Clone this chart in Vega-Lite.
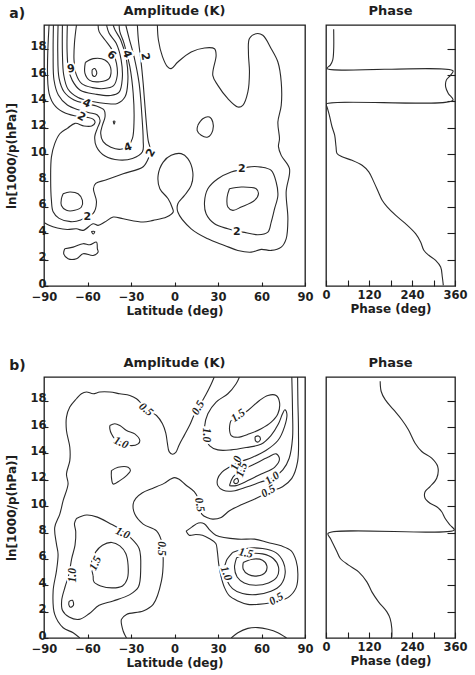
{
"$schema":"https://vega.github.io/schema/vega-lite/v6.json",
"padding":{"left":5,"right":5,"top":4,"bottom":5},
"config":{
"background":"white",
"font":"DejaVu Sans",
"view":{"stroke":"#1e1e1e","strokeWidth":1.3},
"axis":{"grid":false,"domain":false,"labelFont":"DejaVu Sans","labelFontWeight":"bold","labelFontSize":11.5,"labelColor":"#1e1e1e","titleFont":"DejaVu Sans","titleFontWeight":"bold","titleFontSize":12,"titleColor":"#1e1e1e","tickColor":"#1e1e1e","tickWidth":1.1,"labelOverlap":false,"labelFlush":false,"labelSeparation":0},
"axisY":{"labelOverlap":false},
"axisLeft":{"labelOverlap":false},
"axisQuantitative":{"labelOverlap":false},
"title":{"font":"DejaVu Sans","fontWeight":"bold","fontSize":13,"color":"#1e1e1e","offset":7}
},
"datasets":{
"ca":[
{"line":"o","lat":-89.7,"lev":4.8},{"line":"o","lat":-86.5,"lev":4.6},{"line":"o","lat":-80.8,"lev":4.4},{"line":"o","lat":-73.9,"lev":4.29},{"line":"o","lat":-67.6,"lev":4.34},{"line":"o","lat":-63,"lev":4.22},{"line":"o","lat":-56.1,"lev":4.72},{"line":"o","lat":-52.7,"lev":4.6},{"line":"o","lat":-48.1,"lev":4.85},{"line":"o","lat":-42.3,"lev":5.23},{"line":"o","lat":-35.4,"lev":5.1},{"line":"o","lat":-21.6,"lev":4.85},{"line":"o","lat":-14.7,"lev":4.98},{"line":"o","lat":-5.5,"lev":5.23},{"line":"o","lat":-0.9,"lev":5.61},{"line":"o","lat":-1.4,"lev":5.9},{"line":"o","lat":-4.4,"lev":6.62},{"line":"o","lat":-10.1,"lev":7.38},{"line":"o","lat":-11.3,"lev":8.39},{"line":"o","lat":-7.8,"lev":9.4},{"line":"o","lat":-2.3,"lev":9.91},{"line":"o","lat":4.6,"lev":10.04},{"line":"o","lat":9.2,"lev":9.66},{"line":"o","lat":12.6,"lev":8.65},{"line":"o","lat":11.5,"lev":7.63},{"line":"o","lat":6.9,"lev":6.87},{"line":"o","lat":2.3,"lev":6.24},{"line":"o","lat":2.3,"lev":5.61},{"line":"o","lat":11.5,"lev":4.34},{"line":"o","lat":23,"lev":3.58},{"line":"o","lat":34.5,"lev":3.08},{"line":"o","lat":43.7,"lev":2.7},{"line":"o","lat":52.9,"lev":2.57},{"line":"o","lat":59.8,"lev":2.78},{"line":"o","lat":66.7,"lev":2.7},{"line":"o","lat":73.6,"lev":2.95},{"line":"o","lat":77,"lev":3.58},{"line":"o","lat":78.2,"lev":5.1},{"line":"o","lat":77,"lev":7.13},{"line":"o","lat":79.3,"lev":8.9},{"line":"o","lat":73.6,"lev":9.91},{"line":"o","lat":71.7,"lev":10.57},{"line":"o","lat":72.4,"lev":11.17},{"line":"o","lat":71.3,"lev":12.44},{"line":"o","lat":73.6,"lev":13.7},{"line":"o","lat":73.6,"lev":15.48},{"line":"o","lat":71.3,"lev":16.99},{"line":"o","lat":66.7,"lev":18.0},{"line":"o","lat":60.9,"lev":19.02},{"line":"o","lat":56.3,"lev":19.14},{"line":"o","lat":51.7,"lev":18.77},{"line":"o","lat":51,"lev":17.65},{"line":"o","lat":51.7,"lev":16.24},{"line":"o","lat":50.6,"lev":14.72},{"line":"o","lat":47.1,"lev":13.7},{"line":"o","lat":43.7,"lev":13.58},{"line":"o","lat":36.8,"lev":14.21},{"line":"o","lat":29.9,"lev":15.22},{"line":"o","lat":26.4,"lev":15.98},{"line":"o","lat":28.7,"lev":17.5},{"line":"o","lat":27.6,"lev":18.0},{"line":"o","lat":20.7,"lev":18.06},{"line":"o","lat":11.5,"lev":17.75},{"line":"o","lat":2.3,"lev":16.99},{"line":"o","lat":-2.3,"lev":16.49},{"line":"o","lat":-4.9,"lev":16.64},{"line":"o","lat":-8.3,"lev":17.4},{"line":"o","lat":-11.1,"lev":18.66},{"line":"o","lat":-11.8,"lev":19.8},
{"line":"r2","lat":43.7,"lev":8.77},{"line":"r2","lat":50.6,"lev":9.02},{"line":"r2","lat":59.8,"lev":9.02},{"line":"r2","lat":66.7,"lev":8.77},{"line":"r2","lat":70.1,"lev":7.89},{"line":"r2","lat":71.3,"lev":6.87},{"line":"r2","lat":69,"lev":5.86},{"line":"r2","lat":66.7,"lev":4.85},{"line":"r2","lat":64.4,"lev":4.09},{"line":"r2","lat":57.5,"lev":3.89},{"line":"r2","lat":47.1,"lev":4.09},{"line":"r2","lat":43.7,"lev":4.14},{"line":"r2","lat":36.8,"lev":4.34},{"line":"r2","lat":27.6,"lev":4.72},{"line":"r2","lat":21.8,"lev":5.48},{"line":"r2","lat":20.7,"lev":6.37},{"line":"r2","lat":23,"lev":7.38},{"line":"r2","lat":29.9,"lev":8.14},{"line":"r2","lat":39.1,"lev":8.65},{"line":"r2","lat":43.7,"lev":8.77},
{"line":"r3","lat":37.9,"lev":7.38},{"line":"r3","lat":46,"lev":7.51},{"line":"r3","lat":56.3,"lev":7.38},{"line":"r3","lat":57.9,"lev":7.0},{"line":"r3","lat":55.2,"lev":6.49},{"line":"r3","lat":46,"lev":5.99},{"line":"r3","lat":40.2,"lev":5.74},{"line":"r3","lat":36.8,"lev":5.99},{"line":"r3","lat":36.3,"lev":6.75},{"line":"r3","lat":37.9,"lev":7.38},
{"line":"s1","lat":16.1,"lev":12.19},{"line":"s1","lat":19.5,"lev":12.69},{"line":"s1","lat":24.1,"lev":12.82},{"line":"s1","lat":26.4,"lev":12.44},{"line":"s1","lat":26.4,"lev":11.81},{"line":"s1","lat":23,"lev":11.3},{"line":"s1","lat":18.4,"lev":11.43},{"line":"s1","lat":15.6,"lev":11.81},{"line":"s1","lat":16.1,"lev":12.19},
{"line":"c2","lat":-86.5,"lev":19.8},{"line":"c2","lat":-86.5,"lev":14.62},{"line":"c2","lat":-81.9,"lev":13.6},{"line":"c2","lat":-75,"lev":13.1},{"line":"c2","lat":-65.8,"lev":12.85},{"line":"c2","lat":-60.1,"lev":12.79},{"line":"c2","lat":-55.9,"lev":12.64},{"line":"c2","lat":-54.8,"lev":12.39},{"line":"c2","lat":-57.1,"lev":12.14},{"line":"c2","lat":-62.4,"lev":12.14},{"line":"c2","lat":-68.6,"lev":12.34},{"line":"c2","lat":-73.9,"lev":11.96},{"line":"c2","lat":-79.1,"lev":11.55},{"line":"c2","lat":-82.6,"lev":10.8},{"line":"c2","lat":-84.9,"lev":9.78},{"line":"c2","lat":-85.4,"lev":8.04},{"line":"c2","lat":-84.9,"lev":6.52},{"line":"c2","lat":-83.7,"lev":5.63},{"line":"c2","lat":-79.6,"lev":5.13},{"line":"c2","lat":-71.6,"lev":4.88},{"line":"c2","lat":-64.7,"lev":5.0},{"line":"c2","lat":-60.7,"lev":5.28},{"line":"c2","lat":-56.1,"lev":5.51},{"line":"c2","lat":-53.8,"lev":6.37},{"line":"c2","lat":-55.9,"lev":7.38},{"line":"c2","lat":-54.3,"lev":7.78},{"line":"c2","lat":-47.4,"lev":8.04},{"line":"c2","lat":-35.4,"lev":8.52},{"line":"c2","lat":-21.6,"lev":9.05},{"line":"c2","lat":-17.5,"lev":9.81},{"line":"c2","lat":-16.4,"lev":10.19},{"line":"c2","lat":-18.2,"lev":11.07},{"line":"c2","lat":-19.8,"lev":12.85},{"line":"c2","lat":-21.6,"lev":15.37},{"line":"c2","lat":-23.2,"lev":17.15},{"line":"c2","lat":-24.9,"lev":18.66},{"line":"c2","lat":-25.6,"lev":19.8},
{"line":"c3","lat":-83.5,"lev":19.8},{"line":"c3","lat":-83.7,"lev":17.65},{"line":"c3","lat":-83.1,"lev":15.63},{"line":"c3","lat":-80.1,"lev":14.49},{"line":"c3","lat":-73.9,"lev":13.73},{"line":"c3","lat":-65.8,"lev":13.35},{"line":"c3","lat":-58.9,"lev":13.15},{"line":"c3","lat":-53.2,"lev":12.97},{"line":"c3","lat":-51.3,"lev":12.54},{"line":"c3","lat":-53.2,"lev":11.96},{"line":"c3","lat":-55,"lev":11.33},{"line":"c3","lat":-53.8,"lev":10.57},{"line":"c3","lat":-47.9,"lev":9.86},{"line":"c3","lat":-38.2,"lev":9.56},{"line":"c3","lat":-29,"lev":9.68},{"line":"c3","lat":-22.1,"lev":10.19},{"line":"c3","lat":-21.6,"lev":11.07},{"line":"c3","lat":-22.6,"lev":13.1},{"line":"c3","lat":-24.4,"lev":15.37},{"line":"c3","lat":-27.9,"lev":17.4},{"line":"c3","lat":-31.3,"lev":18.79},{"line":"c3","lat":-33.6,"lev":19.8},
{"line":"c4","lat":-80.3,"lev":19.8},{"line":"c4","lat":-80.5,"lev":17.65},{"line":"c4","lat":-79.6,"lev":15.75},{"line":"c4","lat":-76.2,"lev":14.74},{"line":"c4","lat":-69.3,"lev":14.11},{"line":"c4","lat":-60.7,"lev":13.83},{"line":"c4","lat":-53.8,"lev":13.65},{"line":"c4","lat":-48.6,"lev":13.35},{"line":"c4","lat":-47.9,"lev":12.84},{"line":"c4","lat":-49.7,"lev":12.21},{"line":"c4","lat":-50.9,"lev":11.58},{"line":"c4","lat":-49.2,"lev":10.95},{"line":"c4","lat":-43.9,"lev":10.52},{"line":"c4","lat":-37.1,"lev":10.37},{"line":"c4","lat":-32,"lev":10.62},{"line":"c4","lat":-29,"lev":11.2},{"line":"c4","lat":-27.9,"lev":12.59},{"line":"c4","lat":-28.5,"lev":14.62},{"line":"c4","lat":-30.8,"lev":16.64},{"line":"c4","lat":-34.8,"lev":18.41},{"line":"c4","lat":-37.7,"lev":19.3},{"line":"c4","lat":-38.2,"lev":19.8},
{"line":"c5","lat":-77.3,"lev":19.8},{"line":"c5","lat":-77.3,"lev":17.65},{"line":"c5","lat":-76.4,"lev":16.01},{"line":"c5","lat":-73.5,"lev":14.95},{"line":"c5","lat":-66.5,"lev":14.3},{"line":"c5","lat":-56.6,"lev":14.0},{"line":"c5","lat":-47.4,"lev":13.85},{"line":"c5","lat":-39.4,"lev":13.85},{"line":"c5","lat":-34.1,"lev":14.35},{"line":"c5","lat":-32.2,"lev":15.5},{"line":"c5","lat":-33.1,"lev":17.15},{"line":"c5","lat":-37.1,"lev":18.66},{"line":"c5","lat":-41,"lev":19.42},{"line":"c5","lat":-42.3,"lev":19.8},
{"line":"c6","lat":-73.9,"lev":19.8},{"line":"c6","lat":-74.1,"lev":17.9},{"line":"c6","lat":-73.2,"lev":16.51},{"line":"c6","lat":-70.5,"lev":15.6},{"line":"c6","lat":-65,"lev":14.85},{"line":"c6","lat":-54.3,"lev":14.55},{"line":"c6","lat":-44,"lev":14.45},{"line":"c6","lat":-38.2,"lev":14.7},{"line":"c6","lat":-36,"lev":15.75},{"line":"c6","lat":-36.8,"lev":17.15},{"line":"c6","lat":-40.2,"lev":18.41},{"line":"c6","lat":-45.1,"lev":19.17},{"line":"c6","lat":-46.9,"lev":19.8},
{"line":"c7","lat":-67.6,"lev":19.8},{"line":"c7","lat":-69,"lev":18.41},{"line":"c7","lat":-69.3,"lev":17.15},{"line":"c7","lat":-67.8,"lev":16.05},{"line":"c7","lat":-64,"lev":15.35},{"line":"c7","lat":-56.6,"lev":15.05},{"line":"c7","lat":-48.6,"lev":14.98},{"line":"c7","lat":-42,"lev":15.2},{"line":"c7","lat":-39.5,"lev":15.95},{"line":"c7","lat":-40,"lev":16.89},{"line":"c7","lat":-43,"lev":17.9},{"line":"c7","lat":-47.9,"lev":18.66},{"line":"c7","lat":-52,"lev":19.3},{"line":"c7","lat":-52.7,"lev":19.8},
{"line":"ov","lat":-61.5,"lev":16.95},{"line":"ov","lat":-56.1,"lev":17.25},{"line":"ov","lat":-48,"lev":17.15},{"line":"ov","lat":-44,"lev":16.55},{"line":"ov","lat":-45,"lev":15.75},{"line":"ov","lat":-51.5,"lev":15.5},{"line":"ov","lat":-58.5,"lev":15.6},{"line":"ov","lat":-61.8,"lev":16.15},{"line":"ov","lat":-61.5,"lev":16.95},
{"line":"oi","lat":-56.8,"lev":16.4},{"line":"oi","lat":-55,"lev":16.5},{"line":"oi","lat":-53.6,"lev":16.15},{"line":"oi","lat":-55,"lev":15.9},{"line":"oi","lat":-56.6,"lev":16.0},{"line":"oi","lat":-56.8,"lev":16.4},
{"line":"d2","lat":-42.3,"lev":12.5},{"line":"d2","lat":-41.1,"lev":12.5},{"line":"d2","lat":-41.7,"lev":12.28},{"line":"d2","lat":-42.3,"lev":12.5},
{"line":"e3","lat":-76.8,"lev":7.0},{"line":"e3","lat":-72.2,"lev":7.13},{"line":"e3","lat":-66.5,"lev":7.0},{"line":"e3","lat":-63.5,"lev":6.49},{"line":"e3","lat":-64.2,"lev":5.99},{"line":"e3","lat":-68.8,"lev":5.74},{"line":"e3","lat":-74.5,"lev":5.74},{"line":"e3","lat":-78,"lev":6.11},{"line":"e3","lat":-78,"lev":6.62},{"line":"e3","lat":-76.8,"lev":7.0},
{"line":"d1","lat":-57.3,"lev":4.14},{"line":"d1","lat":-55,"lev":4.14},{"line":"d1","lat":-56.1,"lev":3.94},{"line":"d1","lat":-57.3,"lev":4.14},
{"line":"bt","lat":-75.7,"lev":2.83},{"line":"bt","lat":-69.9,"lev":2.95},{"line":"bt","lat":-63,"lev":3.21},{"line":"bt","lat":-58.4,"lev":3.13},{"line":"bt","lat":-53.8,"lev":3.33},{"line":"bt","lat":-53.2,"lev":2.83},{"line":"bt","lat":-52.7,"lev":2.57},{"line":"bt","lat":-56.1,"lev":2.32},{"line":"bt","lat":-63,"lev":2.45},{"line":"bt","lat":-67.6,"lev":2.07},{"line":"bt","lat":-73.4,"lev":2.07},{"line":"bt","lat":-76.4,"lev":2.45},{"line":"bt","lat":-75.7,"lev":2.83}
],
"la":[
{"lat":-71.5,"lev":16.6,"text":"6","rot":170},{"lat":-43.5,"lev":17.5,"text":"6","rot":40},{"lat":-33.1,"lev":17.6,"text":"4","rot":70},{"lat":-20.5,"lev":17.4,"text":"2","rot":80},{"lat":-60.7,"lev":13.83,"text":"4","rot":25},{"lat":-64.2,"lev":12.82,"text":"2","rot":30},{"lat":-32,"lev":10.5,"text":"4","rot":-20},{"lat":-16.2,"lev":10.1,"text":"2","rot":-60},{"lat":-60.1,"lev":5.24,"text":"2","rot":0},{"lat":46.4,"lev":8.85,"text":"2","rot":0},{"lat":43,"lev":4.12,"text":"2","rot":0}
],
"cb":[
{"line":"b1","lat":27.4,"lev":19.8},{"line":"b1","lat":25.1,"lev":19.21},{"line":"b1","lat":21.6,"lev":18.45},{"line":"b1","lat":17,"lev":17.57},{"line":"b1","lat":13.6,"lev":16.93},{"line":"b1","lat":10.6,"lev":16.17},{"line":"b1","lat":6.9,"lev":15.41},{"line":"b1","lat":3.2,"lev":14.65},{"line":"b1","lat":0.9,"lev":14.09},{"line":"b1","lat":-1.4,"lev":13.94},{"line":"b1","lat":-3.7,"lev":14.14},{"line":"b1","lat":-4.9,"lev":14.78},{"line":"b1","lat":-6,"lev":15.54},{"line":"b1","lat":-8.3,"lev":16.25},{"line":"b1","lat":-12.4,"lev":16.88},{"line":"b1","lat":-17,"lev":17.19},{"line":"b1","lat":-21.6,"lev":17.64},{"line":"b1","lat":-26.2,"lev":18.15},{"line":"b1","lat":-30.8,"lev":18.4},{"line":"b1","lat":-37.7,"lev":18.53},{"line":"b1","lat":-44.6,"lev":18.66},{"line":"b1","lat":-51.5,"lev":18.66},{"line":"b1","lat":-56.1,"lev":18.53},{"line":"b1","lat":-60.7,"lev":18.66},{"line":"b1","lat":-64.2,"lev":18.53},{"line":"b1","lat":-67.6,"lev":18.15},{"line":"b1","lat":-72.2,"lev":17.52},{"line":"b1","lat":-74.5,"lev":16.76},{"line":"b1","lat":-74.5,"lev":15.74},{"line":"b1","lat":-72.2,"lev":14.47},{"line":"b1","lat":-72.2,"lev":13.46},{"line":"b1","lat":-74.5,"lev":12.44},{"line":"b1","lat":-73.4,"lev":11.68},{"line":"b1","lat":-76.8,"lev":10.42},{"line":"b1","lat":-79.1,"lev":9.4},{"line":"b1","lat":-82.6,"lev":8.39},{"line":"b1","lat":-81.4,"lev":7.12},{"line":"b1","lat":-80.3,"lev":6.36},{"line":"b1","lat":-81.4,"lev":5.09},{"line":"b1","lat":-83.7,"lev":3.57},{"line":"b1","lat":-82.6,"lev":1.79},{"line":"b1","lat":-76.8,"lev":0.78},{"line":"b1","lat":-69.9,"lev":0.4},{"line":"b1","lat":-65.3,"lev":0},
{"line":"b2","lat":-33.1,"lev":0},{"line":"b2","lat":-35.4,"lev":0.53},{"line":"b2","lat":-36.6,"lev":1.41},{"line":"b2","lat":-33.1,"lev":1.79},{"line":"b2","lat":-21.6,"lev":2.05},{"line":"b2","lat":-14.7,"lev":2.55},{"line":"b2","lat":-9,"lev":4.33},{"line":"b2","lat":-7.8,"lev":6.1},{"line":"b2","lat":-9,"lev":7.37},{"line":"b2","lat":-12.4,"lev":8.13},{"line":"b2","lat":-21.6,"lev":8.64},{"line":"b2","lat":-27.4,"lev":9.4},{"line":"b2","lat":-28.5,"lev":10.16},{"line":"b2","lat":-26.7,"lev":10.59},{"line":"b2","lat":-22.1,"lev":11.02},{"line":"b2","lat":-15.2,"lev":11.35},{"line":"b2","lat":-7.2,"lev":11.73},{"line":"b2","lat":-2.6,"lev":12.06},{"line":"b2","lat":0.2,"lev":12.17},{"line":"b2","lat":3.2,"lev":12.04},{"line":"b2","lat":7.8,"lev":11.61},{"line":"b2","lat":13.6,"lev":11.1},{"line":"b2","lat":16.3,"lev":10.59},{"line":"b2","lat":17.5,"lev":9.96},{"line":"b2","lat":18.8,"lev":9.4},{"line":"b2","lat":22.8,"lev":9.12},{"line":"b2","lat":26.4,"lev":9.02},{"line":"b2","lat":32.2,"lev":9.15},{"line":"b2","lat":37.9,"lev":9.65},{"line":"b2","lat":46.9,"lev":10.14},{"line":"b2","lat":56.1,"lev":10.59},{"line":"b2","lat":65.8,"lev":11.1},{"line":"b2","lat":74.5,"lev":11.48},{"line":"b2","lat":80.9,"lev":12.11},{"line":"b2","lat":84.9,"lev":13.38},{"line":"b2","lat":85.5,"lev":15.66},{"line":"b2","lat":85.1,"lev":17.95},{"line":"b2","lat":84.9,"lev":19.8},
{"line":"q","lat":8,"lev":8.11},{"line":"q","lat":11.9,"lev":8.41},{"line":"q","lat":16.5,"lev":8.72},{"line":"q","lat":20.5,"lev":8.67},{"line":"q","lat":24.4,"lev":8.18},{"line":"q","lat":28.5,"lev":7.8},{"line":"q","lat":43.7,"lev":7.5},{"line":"q","lat":55.2,"lev":7.5},{"line":"q","lat":64.4,"lev":7.25},{"line":"q","lat":73.6,"lev":6.99},{"line":"q","lat":80.5,"lev":6.61},{"line":"q","lat":83.9,"lev":5.85},{"line":"q","lat":85.1,"lev":4.84},{"line":"q","lat":83.9,"lev":3.82},{"line":"q","lat":78.2,"lev":3.06},{"line":"q","lat":71.3,"lev":2.81},{"line":"q","lat":66.7,"lev":2.68},{"line":"q","lat":57.5,"lev":2.55},{"line":"q","lat":50.6,"lev":2.55},{"line":"q","lat":43.7,"lev":2.81},{"line":"q","lat":37.9,"lev":3.19},{"line":"q","lat":34.5,"lev":3.82},{"line":"q","lat":32,"lev":4.71},{"line":"q","lat":30.5,"lev":5.6},{"line":"q","lat":29.5,"lev":6.61},{"line":"q","lat":28.5,"lev":7.17},{"line":"q","lat":23.9,"lev":7.55},{"line":"q","lat":19.3,"lev":7.8},{"line":"q","lat":14.7,"lev":7.85},{"line":"q","lat":10.1,"lev":7.8},{"line":"q","lat":8,"lev":8.11},
{"line":"r10","lat":40,"lev":6.48},{"line":"r10","lat":49.2,"lev":6.79},{"line":"r10","lat":60.7,"lev":6.79},{"line":"r10","lat":69.9,"lev":6.48},{"line":"r10","lat":75,"lev":5.77},{"line":"r10","lat":76.3,"lev":4.89},{"line":"r10","lat":73.4,"lev":4.05},{"line":"r10","lat":66.5,"lev":3.54},{"line":"r10","lat":56.1,"lev":3.29},{"line":"r10","lat":46.9,"lev":3.37},{"line":"r10","lat":40,"lev":3.75},{"line":"r10","lat":36.1,"lev":4.38},{"line":"r10","lat":34.5,"lev":5.14},{"line":"r10","lat":35.9,"lev":5.9},{"line":"r10","lat":40,"lev":6.48},
{"line":"r15","lat":42.8,"lev":6.08},{"line":"r15","lat":50.4,"lev":6.38},{"line":"r15","lat":60.7,"lev":6.38},{"line":"r15","lat":68.1,"lev":6.03},{"line":"r15","lat":71.7,"lev":5.39},{"line":"r15","lat":70.6,"lev":4.63},{"line":"r15","lat":64.8,"lev":4.18},{"line":"r15","lat":56.1,"lev":4.0},{"line":"r15","lat":48.1,"lev":4.18},{"line":"r15","lat":43.2,"lev":4.63},{"line":"r15","lat":41.4,"lev":5.34},{"line":"r15","lat":42.8,"lev":6.08},
{"line":"r20","lat":47.4,"lev":5.72},{"line":"r20","lat":53.8,"lev":5.98},{"line":"r20","lat":60.7,"lev":5.9},{"line":"r20","lat":63.7,"lev":5.47},{"line":"r20","lat":62.5,"lev":4.96},{"line":"r20","lat":57.3,"lev":4.71},{"line":"r20","lat":51,"lev":4.81},{"line":"r20","lat":47.4,"lev":5.22},{"line":"r20","lat":47.4,"lev":5.72},
{"line":"arc","lat":39.1,"lev":0},{"line":"arc","lat":43.7,"lev":0.4},{"line":"arc","lat":50.6,"lev":0.73},{"line":"arc","lat":57.5,"lev":0.79},{"line":"arc","lat":64.4,"lev":0.66},{"line":"arc","lat":71.3,"lev":0.4},{"line":"arc","lat":75.9,"lev":0.1},{"line":"arc","lat":77.3,"lev":0},
{"line":"u1","lat":-44.6,"lev":16.12},{"line":"u1","lat":-41.2,"lev":16.25},{"line":"u1","lat":-37.7,"lev":16.12},{"line":"u1","lat":-33.1,"lev":15.74},{"line":"u1","lat":-27.4,"lev":15.49},{"line":"u1","lat":-23.9,"lev":14.98},{"line":"u1","lat":-25.1,"lev":14.73},{"line":"u1","lat":-30.8,"lev":14.6},{"line":"u1","lat":-36.6,"lev":14.85},{"line":"u1","lat":-41.2,"lev":15.11},{"line":"u1","lat":-43.5,"lev":15.49},{"line":"u1","lat":-44.6,"lev":15.87},{"line":"u1","lat":-44.6,"lev":16.12},
{"line":"u2","lat":-43.5,"lev":12.7},{"line":"u2","lat":-38.9,"lev":12.95},{"line":"u2","lat":-32,"lev":12.95},{"line":"u2","lat":-30.4,"lev":12.7},{"line":"u2","lat":-33.1,"lev":12.32},{"line":"u2","lat":-37.7,"lev":11.94},{"line":"u2","lat":-42.3,"lev":11.68},{"line":"u2","lat":-43.5,"lev":12.19},{"line":"u2","lat":-43.5,"lev":12.7},
{"line":"l10","lat":-67.6,"lev":9.07},{"line":"l10","lat":-60.7,"lev":9.33},{"line":"l10","lat":-53.2,"lev":9.17},{"line":"l10","lat":-44.6,"lev":8.69},{"line":"l10","lat":-37.7,"lev":8.26},{"line":"l10","lat":-30.2,"lev":7.6},{"line":"l10","lat":-24.4,"lev":6.79},{"line":"l10","lat":-23.3,"lev":5.27},{"line":"l10","lat":-24.9,"lev":3.87},{"line":"l10","lat":-30.8,"lev":3.29},{"line":"l10","lat":-42.3,"lev":2.81},{"line":"l10","lat":-52,"lev":2.48},{"line":"l10","lat":-58.9,"lev":1.84},{"line":"l10","lat":-65.8,"lev":1.41},{"line":"l10","lat":-72.7,"lev":1.59},{"line":"l10","lat":-77.3,"lev":2.1},{"line":"l10","lat":-77.8,"lev":2.86},{"line":"l10","lat":-75.5,"lev":3.87},{"line":"l10","lat":-72.7,"lev":4.89},{"line":"l10","lat":-70.9,"lev":6.03},{"line":"l10","lat":-68.6,"lev":7.04},{"line":"l10","lat":-68.1,"lev":8.06},{"line":"l10","lat":-69,"lev":8.69},{"line":"l10","lat":-67.6,"lev":9.07},
{"line":"l15","lat":-56.1,"lev":4.71},{"line":"l15","lat":-57.3,"lev":5.72},{"line":"l15","lat":-54.3,"lev":6.53},{"line":"l15","lat":-49.7,"lev":7.04},{"line":"l15","lat":-43.3,"lev":7.25},{"line":"l15","lat":-37.7,"lev":6.99},{"line":"l15","lat":-33.6,"lev":6.41},{"line":"l15","lat":-32,"lev":5.52},{"line":"l15","lat":-32.5,"lev":4.51},{"line":"l15","lat":-35.9,"lev":3.95},{"line":"l15","lat":-42.8,"lev":3.8},{"line":"l15","lat":-50.9,"lev":3.95},{"line":"l15","lat":-55.5,"lev":4.25},{"line":"l15","lat":-56.1,"lev":4.71},
{"line":"l20","lat":-72.7,"lev":2.78},{"line":"l20","lat":-70.4,"lev":2.86},{"line":"l20","lat":-69.7,"lev":2.48},{"line":"l20","lat":-71.8,"lev":2.33},{"line":"l20","lat":-72.9,"lev":2.53},{"line":"l20","lat":-72.7,"lev":2.78},
{"line":"v10","lat":44.8,"lev":19.8},{"line":"v10","lat":42.5,"lev":19.29},{"line":"v10","lat":36.8,"lev":18.53},{"line":"v10","lat":28.7,"lev":17.9},{"line":"v10","lat":23,"lev":17.01},{"line":"v10","lat":20.7,"lev":16.0},{"line":"v10","lat":21.8,"lev":15.11},{"line":"v10","lat":24.1,"lev":14.6},{"line":"v10","lat":29.9,"lev":14.27},{"line":"v10","lat":39.1,"lev":14.27},{"line":"v10","lat":49.4,"lev":14.45},{"line":"v10","lat":59.6,"lev":14.7},{"line":"v10","lat":66.5,"lev":15.36},{"line":"v10","lat":71.7,"lev":16.25},{"line":"v10","lat":74.5,"lev":17.01},{"line":"v10","lat":76.1,"lev":17.31},{"line":"v10","lat":77.5,"lev":17.01},{"line":"v10","lat":75.9,"lev":16.04},{"line":"v10","lat":71.3,"lev":14.98},{"line":"v10","lat":63,"lev":14.22},{"line":"v10","lat":53.8,"lev":13.71},{"line":"v10","lat":44.6,"lev":13.33},{"line":"v10","lat":37.7,"lev":12.95},{"line":"v10","lat":32.6,"lev":12.57},{"line":"v10","lat":29.7,"lev":12.06},{"line":"v10","lat":29.9,"lev":11.56},{"line":"v10","lat":33.6,"lev":11.2},{"line":"v10","lat":40.5,"lev":11.15},{"line":"v10","lat":49.7,"lev":11.45},{"line":"v10","lat":58.9,"lev":11.81},{"line":"v10","lat":68.1,"lev":12.16},{"line":"v10","lat":74.7,"lev":12.75},{"line":"v10","lat":79.1,"lev":13.64},{"line":"v10","lat":81.4,"lev":15.16},{"line":"v10","lat":81.4,"lev":17.19},{"line":"v10","lat":80.9,"lev":19.8},
{"line":"v15","lat":37.9,"lev":15.87},{"line":"v15","lat":39.1,"lev":16.5},{"line":"v15","lat":43.7,"lev":16.75},{"line":"v15","lat":50.6,"lev":17.26},{"line":"v15","lat":58.6,"lev":18.02},{"line":"v15","lat":64.4,"lev":18.4},{"line":"v15","lat":70.1,"lev":18.4},{"line":"v15","lat":72.4,"lev":17.9},{"line":"v15","lat":71.3,"lev":17.01},{"line":"v15","lat":66.7,"lev":16.37},{"line":"v15","lat":59.8,"lev":15.87},{"line":"v15","lat":51.7,"lev":15.49},{"line":"v15","lat":43.7,"lev":15.23},{"line":"v15","lat":39.1,"lev":15.36},{"line":"v15","lat":37.9,"lev":15.87},
{"line":"v20","lat":55.6,"lev":15.26},{"line":"v20","lat":57.9,"lev":15.33},{"line":"v20","lat":59.3,"lev":15.1},{"line":"v20","lat":57.7,"lev":14.87},{"line":"v20","lat":55.9,"lev":14.95},{"line":"v20","lat":55.6,"lev":15.26},
{"line":"w15","lat":37.9,"lev":11.56},{"line":"w15","lat":40.2,"lev":12.19},{"line":"w15","lat":46,"lev":12.7},{"line":"w15","lat":55.2,"lev":13.2},{"line":"w15","lat":64.4,"lev":13.71},{"line":"w15","lat":70.1,"lev":13.97},{"line":"w15","lat":72.4,"lev":13.58},{"line":"w15","lat":69,"lev":12.95},{"line":"w15","lat":59.8,"lev":12.44},{"line":"w15","lat":50.6,"lev":11.94},{"line":"w15","lat":42.5,"lev":11.56},{"line":"w15","lat":37.9,"lev":11.56},
{"line":"w20","lat":41.2,"lev":11.99},{"line":"w20","lat":43.2,"lev":12.11},{"line":"w20","lat":44.1,"lev":11.86},{"line":"w20","lat":42.3,"lev":11.71},{"line":"w20","lat":40.9,"lev":11.81},{"line":"w20","lat":41.2,"lev":11.99}
],
"lb":[
{"lat":-19.8,"lev":17.31,"text":"0.5","rot":40},{"lat":16.5,"lev":17.44,"text":"0.5","rot":-60},{"lat":17,"lev":10.1,"text":"0.5","rot":80},{"lat":-9,"lev":6.79,"text":"0.5","rot":90},{"lat":64.8,"lev":11.1,"text":"0.5","rot":-30},{"lat":70.4,"lev":2.93,"text":"0.5","rot":-30},{"lat":-37,"lev":14.78,"text":"1.0","rot":25},{"lat":21.5,"lev":15.4,"text":"1.0","rot":90},{"lat":44,"lev":16.85,"text":"1.5","rot":-35},{"lat":67.6,"lev":12.1,"text":"1.0","rot":-35},{"lat":42.8,"lev":13.26,"text":"1.0","rot":-70},{"lat":46.6,"lev":12.75,"text":"1.5","rot":-70},{"lat":-35.9,"lev":7.93,"text":"1.0","rot":25},{"lat":-54.3,"lev":5.65,"text":"1.5","rot":-65},{"lat":-69.9,"lev":4.76,"text":"1.0","rot":-90},{"lat":49.2,"lev":6.4,"text":"1.5","rot":12},{"lat":35.4,"lev":4.89,"text":"1.0","rot":70}
],
"pa":[
{"phase":21.4,"lev":19.47},{"phase":21.4,"lev":17.9},{"phase":18.7,"lev":17.14},{"phase":12.1,"lev":16.76},{"phase":2.8,"lev":16.5},{"phase":354.4,"lev":16.33},{"phase":347.9,"lev":16.0},{"phase":335.8,"lev":15.62},{"phase":333.9,"lev":15.11},{"phase":341.3,"lev":14.61},{"phase":354.4,"lev":14.1},{"phase":0.5,"lev":13.8},{"phase":2.8,"lev":13.59},{"phase":9.3,"lev":12.96},{"phase":16.8,"lev":12.08},{"phase":24.2,"lev":11.44},{"phase":28,"lev":10.56},{"phase":30.8,"lev":10.05},{"phase":44.8,"lev":9.8},{"phase":72.7,"lev":9.54},{"phase":100.7,"lev":9.16},{"phase":119.4,"lev":8.66},{"phase":133.4,"lev":7.9},{"phase":148.2,"lev":7.0},{"phase":156.7,"lev":6.5},{"phase":170.7,"lev":6.0},{"phase":194,"lev":5.37},{"phase":222,"lev":4.73},{"phase":250,"lev":3.97},{"phase":264,"lev":3.34},{"phase":273,"lev":2.71},{"phase":287,"lev":2.33},{"phase":306,"lev":1.95},{"phase":320,"lev":1.44},{"phase":324.6,"lev":0.68},{"phase":327.4,"lev":0.05}
],
"pb":[
{"phase":151.2,"lev":19.47},{"phase":154,"lev":18.7},{"phase":165.2,"lev":18.08},{"phase":188.4,"lev":17.32},{"phase":211.5,"lev":16.56},{"phase":230,"lev":15.8},{"phase":248.7,"lev":14.78},{"phase":267.2,"lev":14.15},{"phase":295,"lev":13.64},{"phase":311.8,"lev":13.0},{"phase":309,"lev":12.12},{"phase":290.4,"lev":11.49},{"phase":276.5,"lev":11.1},{"phase":276.5,"lev":10.6},{"phase":290.4,"lev":10.22},{"phase":309,"lev":9.96},{"phase":322.9,"lev":9.58},{"phase":332.2,"lev":9.08},{"phase":346,"lev":8.57},{"phase":358,"lev":8.19},{"phase":5.6,"lev":7.94},{"phase":12,"lev":7.56},{"phase":21.3,"lev":7.05},{"phase":30.6,"lev":6.54},{"phase":39.9,"lev":6.03},{"phase":63,"lev":5.53},{"phase":91,"lev":5.02},{"phase":114,"lev":4.26},{"phase":128,"lev":3.5},{"phase":146.6,"lev":2.74},{"phase":170,"lev":1.98},{"phase":179,"lev":1.47},{"phase":183.7,"lev":0.71},{"phase":183.7,"lev":0.08}
]
},
"vconcat":[
{"title":{"text":"a)","anchor":"start","fontSize":14,"offset":0,"dx":4,"dy":17},
"spacing":21,"bounds":"flush",
"hconcat":[
{"width":261,"height":261,"title":"Amplitude (K)",
"layer":[
{"data":{"name":"ca"},"mark":{"type":"line","color":"#2a2a2a","strokeWidth":1.1,"interpolate":"catmull-rom","clip":true},
"encoding":{
"x":{"field":"lat","type":"quantitative","scale":{"domain":[-90,90],"nice":false,"zero":false},"axis":{"values":[-90,-60,-30,0,30,60,90],"tickSize":-4,"labelPadding":9,"labelOverlap":false,"title":"Latitude (deg)","titlePadding":3}},
"y":{"field":"lev","type":"quantitative","scale":{"domain":[0,19.8],"nice":false,"zero":false},"axis":{"values":[0,2,4,6,8,10,12,14,16,18],"tickSize":-4,"labelPadding":2,"labelOffset":-2,"labelOverlap":false,"labelSeparation":0,"title":"ln[1000/p(hPa)]","titlePadding":11}},
"detail":{"field":"line","type":"nominal"},
"order":{"value":null}}},
{"data":{"name":"la"},"mark":{"type":"text","font":"DejaVu Sans","fontWeight":"bold","fontSize":11,"fill":"white","stroke":"white","strokeWidth":4},
"encoding":{"x":{"field":"lat","type":"quantitative","axis":{"values":[-90,-60,-30,0,30,60,90],"tickSize":-4,"labelPadding":9,"labelOverlap":false,"title":"Latitude (deg)","titlePadding":3}},"y":{"field":"lev","type":"quantitative","axis":{"values":[0,2,4,6,8,10,12,14,16,18],"tickSize":-4,"labelPadding":2,"labelOffset":-2,"labelOverlap":false,"labelSeparation":0,"title":"ln[1000/p(hPa)]","titlePadding":11}},"text":{"field":"text"},"angle":{"field":"rot","type":"quantitative","scale":null}}},
{"data":{"name":"la"},"mark":{"type":"text","font":"DejaVu Sans","fontWeight":"bold","fontSize":11,"fill":"#1e1e1e"},
"encoding":{"x":{"field":"lat","type":"quantitative","axis":{"values":[-90,-60,-30,0,30,60,90],"tickSize":-4,"labelPadding":9,"labelOverlap":false,"title":"Latitude (deg)","titlePadding":3}},"y":{"field":"lev","type":"quantitative","axis":{"values":[0,2,4,6,8,10,12,14,16,18],"tickSize":-4,"labelPadding":2,"labelOffset":-2,"labelOverlap":false,"labelSeparation":0,"title":"ln[1000/p(hPa)]","titlePadding":11}},"text":{"field":"text"},"angle":{"field":"rot","type":"quantitative","scale":null}}}
]},
{"width":129,"height":261,"title":"Phase",
"data":{"name":"pa"},
"mark":{"type":"line","color":"#2a2a2a","strokeWidth":1.1,"interpolate":"catmull-rom","clip":true},
"encoding":{
"x":{"field":"phase","type":"quantitative","scale":{"domain":[0,360],"nice":false},"axis":{"values":[0,60,120,180,240,300,360],"labelExpr":"datum.value % 120 === 0 ? datum.label : ''","tickSize":-6,"labelPadding":9,"labelOverlap":false,"title":"Phase (deg)","titlePadding":3}},
"y":{"field":"lev","type":"quantitative","scale":{"domain":[0,19.8],"nice":false,"zero":false},"axis":{"orient":"right","values":[2,4,6,8,10,12,14,16,18],"labels":false,"tickSize":-8,"title":null}},
"order":{"value":null}}}
]},
{"title":{"text":"b)","anchor":"start","fontSize":14,"offset":0,"dx":4,"dy":17},
"spacing":21,"bounds":"flush",
"hconcat":[
{"width":261,"height":261,"title":"Amplitude (K)",
"layer":[
{"data":{"name":"cb"},"mark":{"type":"line","color":"#2a2a2a","strokeWidth":1.1,"interpolate":"catmull-rom","clip":true},
"encoding":{
"x":{"field":"lat","type":"quantitative","scale":{"domain":[-90,90],"nice":false,"zero":false},"axis":{"values":[-90,-60,-30,0,30,60,90],"tickSize":-4,"labelPadding":9,"labelOverlap":false,"title":"Latitude (deg)","titlePadding":3}},
"y":{"field":"lev","type":"quantitative","scale":{"domain":[0,19.8],"nice":false,"zero":false},"axis":{"values":[0,2,4,6,8,10,12,14,16,18],"tickSize":-4,"labelPadding":2,"labelOffset":-2,"labelOverlap":false,"labelSeparation":0,"title":"ln[1000/p(hPa)]","titlePadding":11}},
"detail":{"field":"line","type":"nominal"},
"order":{"value":null}}},
{"data":{"name":"lb"},"mark":{"type":"text","font":"Liberation Serif","fontWeight":"bold","fontStyle":"italic","fontSize":11.5,"fill":"white","stroke":"white","strokeWidth":4},
"encoding":{"x":{"field":"lat","type":"quantitative","axis":{"values":[-90,-60,-30,0,30,60,90],"tickSize":-4,"labelPadding":9,"labelOverlap":false,"title":"Latitude (deg)","titlePadding":3}},"y":{"field":"lev","type":"quantitative","axis":{"values":[0,2,4,6,8,10,12,14,16,18],"tickSize":-4,"labelPadding":2,"labelOffset":-2,"labelOverlap":false,"labelSeparation":0,"title":"ln[1000/p(hPa)]","titlePadding":11}},"text":{"field":"text"},"angle":{"field":"rot","type":"quantitative","scale":null}}},
{"data":{"name":"lb"},"mark":{"type":"text","font":"Liberation Serif","fontWeight":"bold","fontStyle":"italic","fontSize":11.5,"fill":"#1e1e1e"},
"encoding":{"x":{"field":"lat","type":"quantitative","axis":{"values":[-90,-60,-30,0,30,60,90],"tickSize":-4,"labelPadding":9,"labelOverlap":false,"title":"Latitude (deg)","titlePadding":3}},"y":{"field":"lev","type":"quantitative","axis":{"values":[0,2,4,6,8,10,12,14,16,18],"tickSize":-4,"labelPadding":2,"labelOffset":-2,"labelOverlap":false,"labelSeparation":0,"title":"ln[1000/p(hPa)]","titlePadding":11}},"text":{"field":"text"},"angle":{"field":"rot","type":"quantitative","scale":null}}}
]},
{"width":129,"height":261,"title":"Phase",
"data":{"name":"pb"},
"mark":{"type":"line","color":"#2a2a2a","strokeWidth":1.1,"interpolate":"catmull-rom","clip":true},
"encoding":{
"x":{"field":"phase","type":"quantitative","scale":{"domain":[0,360],"nice":false},"axis":{"values":[0,60,120,180,240,300,360],"labelExpr":"datum.value % 120 === 0 ? datum.label : ''","tickSize":-6,"labelPadding":9,"labelOverlap":false,"title":"Phase (deg)","titlePadding":3}},
"y":{"field":"lev","type":"quantitative","scale":{"domain":[0,19.8],"nice":false,"zero":false},"axis":{"orient":"right","values":[2,4,6,8,10,12,14,16,18],"labels":false,"tickSize":-8,"title":null}},
"order":{"value":null}}}
]}
],
"spacing":38
}
